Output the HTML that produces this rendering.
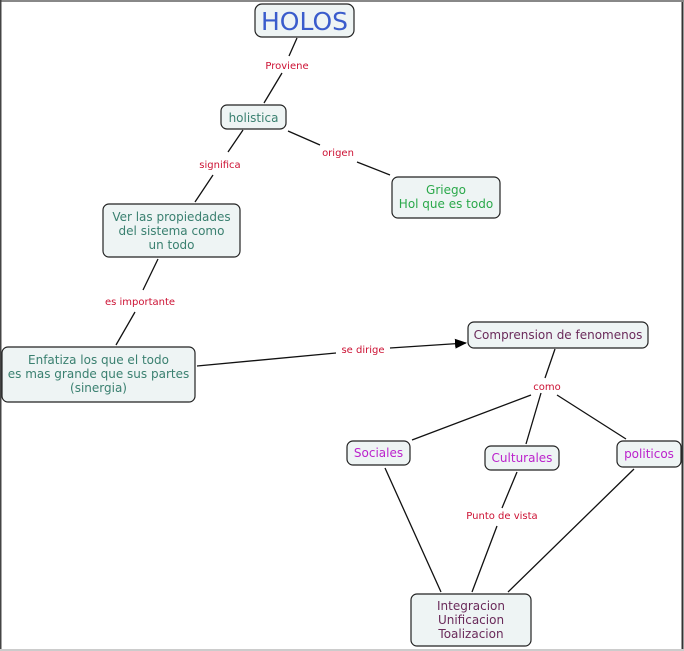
<!DOCTYPE html>
<html><head><meta charset="utf-8"><style>
html,body{margin:0;padding:0;background:#fff;}
svg{display:block;font-family:"DejaVu Sans","Liberation Sans",sans-serif;}
.n{fill:#eef4f4;stroke:#222;stroke-width:1.2;}
.l{fill:#cc1133;font-size:10px;text-anchor:middle;}
.c{stroke:#111;stroke-width:1.3;fill:none;}
</style></head><body>
<svg width="684" height="651" viewBox="0 0 684 651" xmlns="http://www.w3.org/2000/svg">
<rect x="0" y="0" width="684" height="651" fill="#fff"/>
<rect x="0" y="0" width="684" height="2" fill="#888"/>
<rect x="0" y="0" width="1.5" height="651" fill="#444"/>
<rect x="681.5" y="2" width="2" height="649" fill="#333"/>
<rect x="0" y="649" width="684" height="2" fill="#ccc"/>
<defs><marker id="a" markerWidth="12" markerHeight="10" refX="11" refY="5" orient="auto" markerUnits="userSpaceOnUse"><path d="M0,0 L12,5 L0,10z" fill="#000"/></marker></defs>
<!-- connectors -->
<path class="c" d="M297,38 L289,56 M282,73 L264,103"/>
<path class="c" d="M243,130 L228,152 M213,175 L195,202"/>
<path class="c" d="M288,131 L320,145 M357,162 L390,175"/>
<path class="c" d="M158,259 L143,290 M135,312 L116,345"/>
<path class="c" d="M197,366 L336,353 M390,348 L466,343" marker-end="url(#a)"/>
<path class="c" d="M555,349 L545,378 M531,395 L412,440 M557,395 L626,439 M541,393 L526,444"/>
<path class="c" d="M385,468 L441,592 M517,472 L502,508 M497,526 L472,592 M634,469 L508,592"/>
<!-- nodes -->
<rect class="n" x="255" y="4" width="99" height="33" rx="7"/>
<text x="304.5" y="30" font-size="25" fill="#3a5ccc" text-anchor="middle">HOLOS</text>
<text class="l" x="287" y="69">Proviene</text>
<rect class="n" x="221" y="105" width="65" height="24" rx="6"/>
<text x="253.5" y="122" font-size="12" fill="#3a8070" text-anchor="middle">holistica</text>
<text class="l" x="220" y="168">significa</text>
<text class="l" x="338" y="156">origen</text>
<rect class="n" x="392" y="177" width="108" height="41" rx="6"/>
<text x="446" y="194" font-size="12" fill="#2aa84a" text-anchor="middle">Griego</text>
<text x="446" y="208" font-size="12" fill="#2aa84a" text-anchor="middle">Hol que es todo</text>
<rect class="n" x="103" y="204" width="137" height="53" rx="6"/>
<g font-size="12" fill="#3a8070" text-anchor="middle">
<text x="171.5" y="221">Ver las propiedades</text>
<text x="171.5" y="235">del sistema como</text>
<text x="171.5" y="249">un todo</text></g>
<text class="l" x="140" y="305">es importante</text>
<rect class="n" x="2" y="347" width="193" height="55" rx="6"/>
<g font-size="12" fill="#3a8070" text-anchor="middle">
<text x="98.5" y="364">Enfatiza los que el todo</text>
<text x="98.5" y="378">es mas grande que sus partes</text>
<text x="98.5" y="392">(sinergia)</text></g>
<text class="l" x="363" y="353">se dirige</text>
<rect class="n" x="468" y="322" width="180" height="26" rx="6"/>
<text x="558" y="339" font-size="12" fill="#6a2a5a" text-anchor="middle">Comprension de fenomenos</text>
<text class="l" x="547" y="390">como</text>
<rect class="n" x="347" y="441" width="63" height="24" rx="6"/>
<text x="378.5" y="457" font-size="12" fill="#bb22cc" text-anchor="middle">Sociales</text>
<rect class="n" x="485" y="446" width="74" height="24" rx="6"/>
<text x="522" y="462" font-size="12" fill="#bb22cc" text-anchor="middle">Culturales</text>
<rect class="n" x="617" y="441" width="64" height="26" rx="6"/>
<text x="649" y="458" font-size="12" fill="#bb22cc" text-anchor="middle">politicos</text>
<text class="l" x="502" y="519">Punto de vista</text>
<rect class="n" x="411" y="594" width="120" height="52" rx="6"/>
<g font-size="12" fill="#6a2a5a" text-anchor="middle">
<text x="471" y="610">Integracion</text>
<text x="471" y="624">Unificacion</text>
<text x="471" y="638">Toalizacion</text></g>
</svg>
</body></html>
